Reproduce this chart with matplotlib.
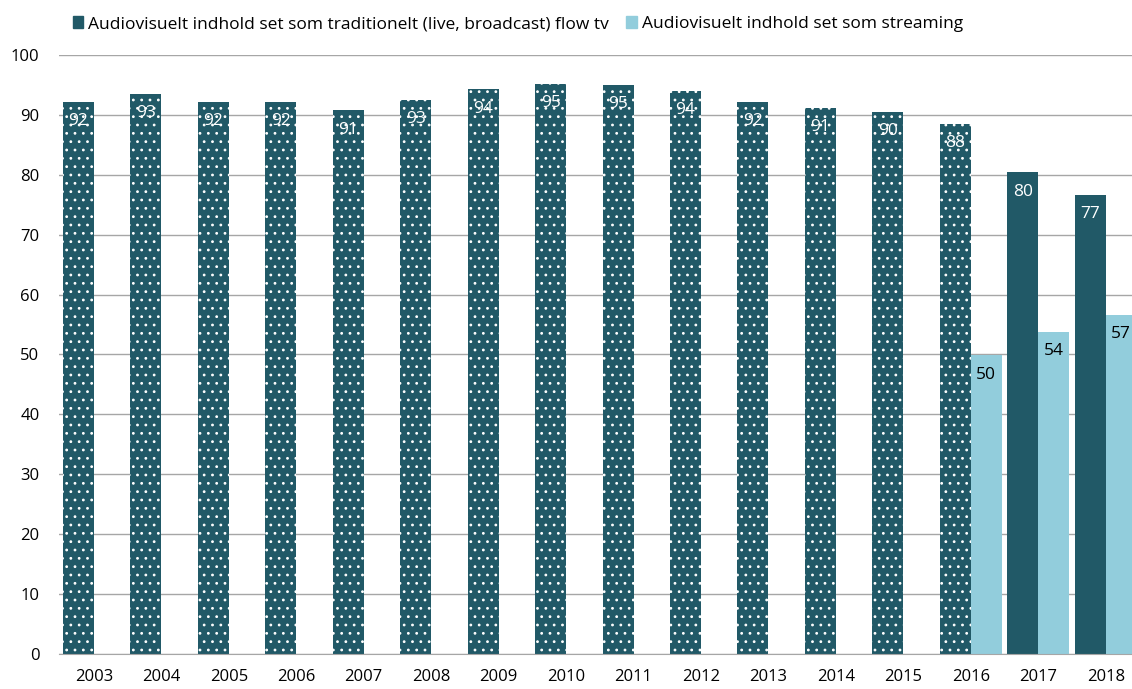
import numpy as np
import matplotlib.pyplot as plt
from matplotlib.patches import Patch

plt.rcParams['font.family'] = ['Open Sans', 'DejaVu Sans']
plt.rcParams['hatch.color'] = 'white'
plt.rcParams['hatch.linewidth'] = 0.8

years = ['2003', '2004', '2005', '2006', '2007', '2008', '2009', '2010',
         '2011', '2012', '2013', '2014', '2015', '2016', '2017', '2018']
flow_tv = [92.2, 93.5, 92.2, 92.2, 90.8, 92.5, 94.3, 95.2,
           95.0, 94.0, 92.2, 91.2, 90.5, 88.5, 80.4, 76.7]
flow_labels = [92, 93, 92, 92, 91, 93, 94, 95, 95, 94, 92, 91, 90, 88, 80, 77]
streaming = [np.nan] * 13 + [49.9, 53.8, 56.6]
streaming_labels = [None] * 13 + [50, 54, 57]
# de første år (til og med 2016) er vist med prikker
dotted = [True] * 14 + [False, False]

dark = '#215967'
light = '#92CDDC'

fig = plt.figure(figsize=(11.32, 6.89), dpi=100)
ax = fig.add_axes([0.052, 0.0508, 0.948, 0.8694])

x = np.arange(len(years))
w = 0.46

for i in range(len(years)):
    ax.bar(x[i] - w / 2, flow_tv[i], w, color=dark, edgecolor='white', linewidth=0,
           hatch='..' if dotted[i] else None, zorder=2)
    ax.annotate(str(flow_labels[i]), (x[i] - w / 2, flow_tv[i]), xytext=(0, -14),
                textcoords='offset points', ha='center', va='center',
                color='white', fontsize=12.5)
    if streaming_labels[i] is not None:
        ax.bar(x[i] + w / 2, streaming[i], w, color=light, linewidth=0, zorder=2)
        ax.annotate(str(streaming_labels[i]), (x[i] + w / 2, streaming[i]), xytext=(0, -14),
                    textcoords='offset points', ha='center', va='center',
                    color='black', fontsize=12.5)

ax.set_xlim(-0.52, 15.39)
ax.set_ylim(0, 100)
ax.set_yticks(range(0, 101, 10))
ax.set_xticks(x)
ax.set_xticklabels(years)
ax.tick_params(length=0, labelsize=12, colors='black')
ax.tick_params(axis='x', pad=11)
ax.tick_params(axis='y', pad=14)
ax.yaxis.grid(True, color='#a6a6a6', linewidth=1)
ax.set_axisbelow(True)
for s in ['top', 'right', 'left']:
    ax.spines[s].set_visible(False)
ax.spines['bottom'].set_color('#a6a6a6')
ax.spines['bottom'].set_zorder(3)

handles = [Patch(color=dark), Patch(color=light)]
fig.legend(handles,
           ['Audiovisuelt indhold set som traditionelt (live, broadcast) flow tv',
            'Audiovisuelt indhold set som streaming'],
           loc='center', bbox_to_anchor=(0.4576, 0.965), ncol=2, frameon=False,
           fontsize=12.5, handlelength=0.6, handleheight=0.6, handletextpad=0.3,
           columnspacing=1.0)

fig.savefig('out.png', dpi=100)
